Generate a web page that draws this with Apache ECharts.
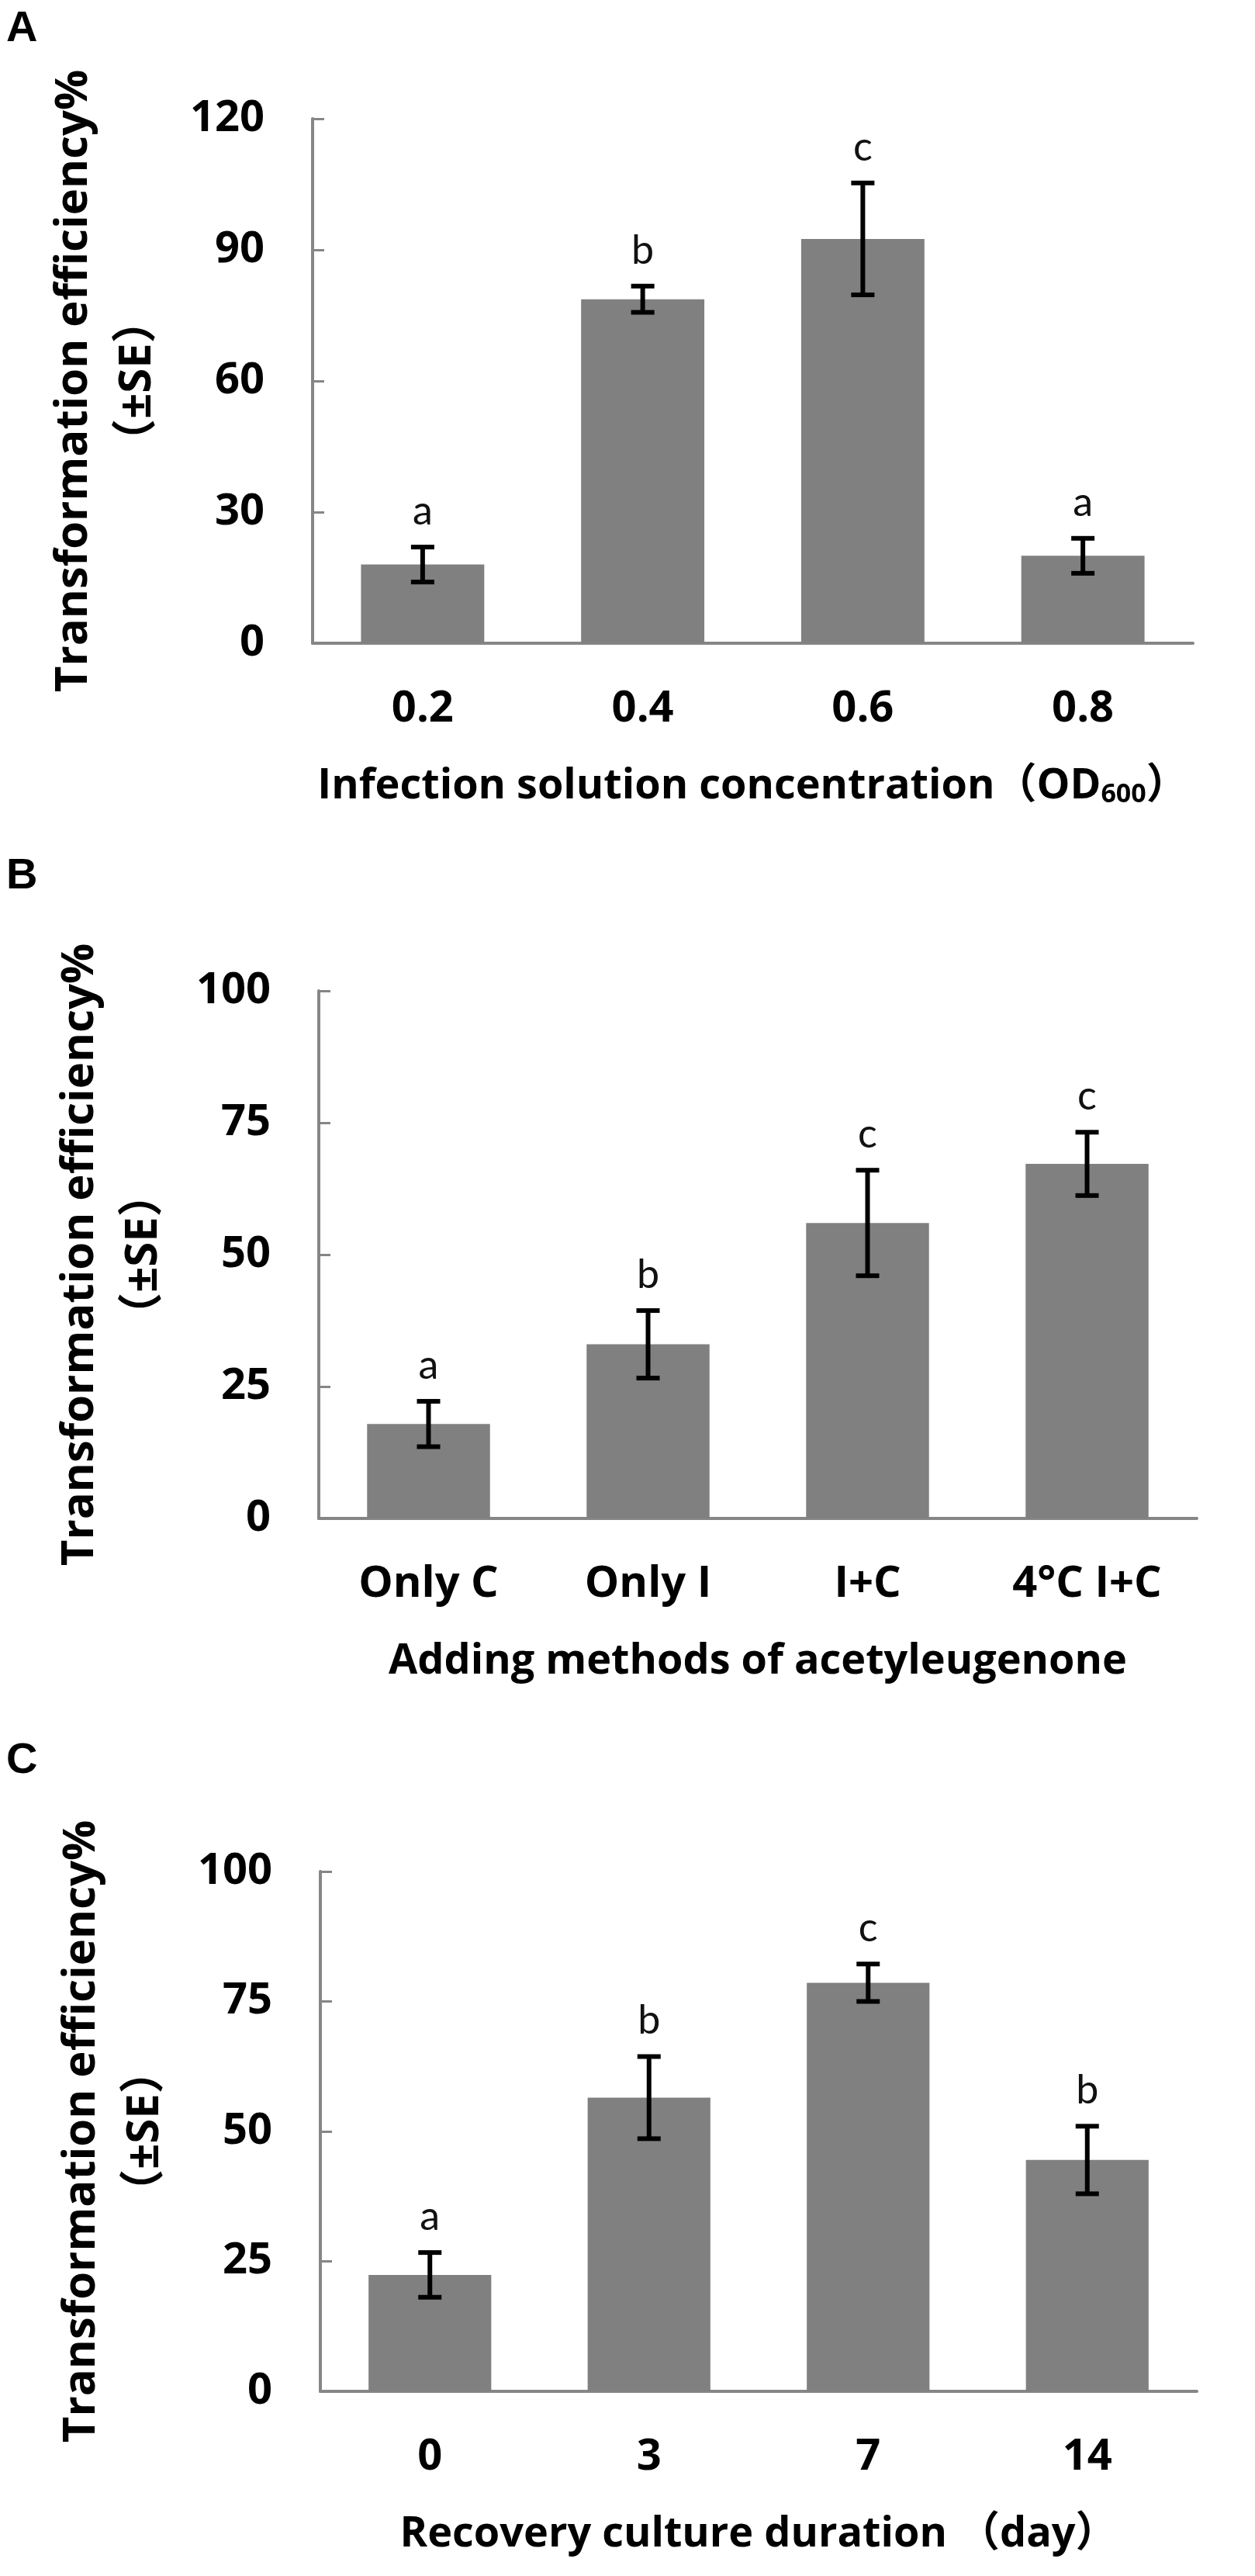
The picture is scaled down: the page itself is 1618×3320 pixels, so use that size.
<!DOCTYPE html>
<html>
<head>
<meta charset="utf-8">
<script src="https://cdn.jsdelivr.net/npm/echarts@6/dist/echarts.min.js"></script>
<style>
  html,body{margin:0;padding:0;background:#fff;}
  #main{width:1618px;height:3320px;}
</style>
</head>
<body>
<div id="main"></div>
<script>
// 面板A 侵染液浓度
var catsA = ['0.2', '0.4', '0.6', '0.8'];
var meanA = [18.0, 78.7, 92.5, 20.0];
var seA = [4.0, 3.0, 12.8, 4.0];
var sigA = ['a', 'b', 'c', 'a'];
// 面板B 乙酰丁香酮添加方式
var catsB = ['Only C', 'Only I', 'I+C', '4°C I+C'];
var meanB = [17.9, 33.0, 56.0, 67.2];
var seB = [4.3, 6.4, 10.0, 6.0];
var sigB = ['a', 'b', 'c', 'c'];
// 面板C 恢复培养时间
var catsC = ['0', '3', '7', '14'];
var meanC = [22.4, 56.5, 78.6, 44.5];
var seC = [4.3, 7.9, 3.6, 6.5];
var sigC = ['a', 'b', 'c', 'b'];

var yTicksA = {max: 120, interval: 30};
var yTicksB = {max: 100, interval: 25};
var yTicksC = {max: 100, interval: 25};

var FONT = '"Open Sans", "Noto Sans", "Noto Sans CJK SC", sans-serif';
var LETTER_FONT = 'Lato, "Open Sans", sans-serif';
var AXIS_GRAY = '#868686';
var BAR_GRAY = '#808080';
var yTitle = 'Transformation efficiency%\n（±SE）';

var chart = echarts.init(document.getElementById('main'));

// 误差线 + 显著性字母
function errRender(sig) {
  return function (params, api) {
    var i = api.value(0), m = api.value(1), e = api.value(2);
    var hi = api.coord([i, m + e]);
    var lo = api.coord([i, m - e]);
    var cap = 15;
    var st = {stroke: '#000', lineWidth: 6};
    return {
      type: 'group',
      children: [
        {type: 'line', shape: {x1: hi[0], y1: hi[1], x2: lo[0], y2: lo[1]}, style: st},
        {type: 'line', shape: {x1: hi[0] - cap, y1: hi[1], x2: hi[0] + cap, y2: hi[1]}, style: st},
        {type: 'line', shape: {x1: lo[0] - cap, y1: lo[1], x2: lo[0] + cap, y2: lo[1]}, style: st},
        {type: 'text', x: hi[0], y: hi[1] - 46,
          style: {text: sig[params.dataIndex], fill: '#111', font: '52px ' + LETTER_FONT,
            align: 'center', verticalAlign: 'middle'}}
      ]
    };
  };
}

function xAxisFor(idx, cats, name, rich) {
  return {
    type: 'category', gridIndex: idx, data: cats,
    axisLine: {lineStyle: {color: AXIS_GRAY, width: 4}},
    axisTick: {inside: true, length: 15, lineStyle: {color: AXIS_GRAY, width: 3}},
    axisLabel: {margin: 57, color: '#000', fontSize: 56, fontWeight: 'bold', fontFamily: FONT},
    name: name, nameLocation: 'middle', nameGap: 158,
    nameTextStyle: {color: '#000', fontSize: 54, fontWeight: 'bold', fontFamily: FONT, rich: rich || {}}
  };
}

function yAxisFor(idx, t) {
  return {
    type: 'value', gridIndex: idx, min: 0, max: t.max, interval: t.interval,
    splitLine: {show: false},
    axisLine: {show: true, lineStyle: {color: AXIS_GRAY, width: 4}},
    axisTick: {show: true, inside: true, length: 15, lineStyle: {color: AXIS_GRAY, width: 3}},
    axisLabel: {margin: 62, color: '#000', fontSize: 56, fontWeight: 'bold', fontFamily: FONT},
    name: yTitle, nameLocation: 'middle', nameRotate: 90, nameGap: 185,
    nameTextStyle: {color: '#000', fontSize: 58, fontWeight: 'bold', fontFamily: FONT, lineHeight: 82}
  };
}

function barSeries(idx, mean) {
  return {
    type: 'bar', xAxisIndex: idx, yAxisIndex: idx, data: mean,
    barWidth: '56%', itemStyle: {color: BAR_GRAY}, silent: true
  };
}

function errSeries(idx, mean, se, sig) {
  return {
    type: 'custom', xAxisIndex: idx, yAxisIndex: idx, z: 5,
    data: mean.map(function (m, i) { return [i, m, se[i]]; }),
    encode: {x: 0, y: 1},
    renderItem: errRender(sig)
  };
}

var subRich = {
  sub: {fontSize: 34, fontWeight: 'bold', fontFamily: FONT, verticalAlign: 'bottom', lineHeight: 20, color: '#000'}
};

chart.setOption({
  backgroundColor: '#fff',
  animation: false,
  grid: [
    {left: 403, top: 153, width: 1135, height: 676, outerBoundsMode: 'none'},
    {left: 411, top: 1277, width: 1132, height: 680, outerBoundsMode: 'none'},
    {left: 413, top: 2412, width: 1130, height: 670, outerBoundsMode: 'none'}
  ],
  xAxis: [
    xAxisFor(0, catsA, 'Infection solution concentration（OD{sub|600}）', subRich),
    xAxisFor(1, catsB, 'Adding methods of acetyleugenone'),
    xAxisFor(2, catsC, 'Recovery culture duration （day）')
  ],
  yAxis: [yAxisFor(0, yTicksA), yAxisFor(1, yTicksB), yAxisFor(2, yTicksC)],
  series: [
    barSeries(0, meanA), errSeries(0, meanA, seA, sigA),
    barSeries(1, meanB), errSeries(1, meanB, seB, sigB),
    barSeries(2, meanC), errSeries(2, meanC, seC, sigC)
  ],
  graphic: [
    {type: 'text', left: 8, top: 10, style: {text: 'A', font: 'bold 56px "Liberation Sans", Arial, sans-serif', fill: '#000'}},
    {type: 'text', left: 8, top: 1102, style: {text: 'B', font: 'bold 56px "Liberation Sans", Arial, sans-serif', fill: '#000'}},
    {type: 'text', left: 8, top: 2242, style: {text: 'C', font: 'bold 56px "Liberation Sans", Arial, sans-serif', fill: '#000'}}
  ]
});
</script>
</body>
</html>
